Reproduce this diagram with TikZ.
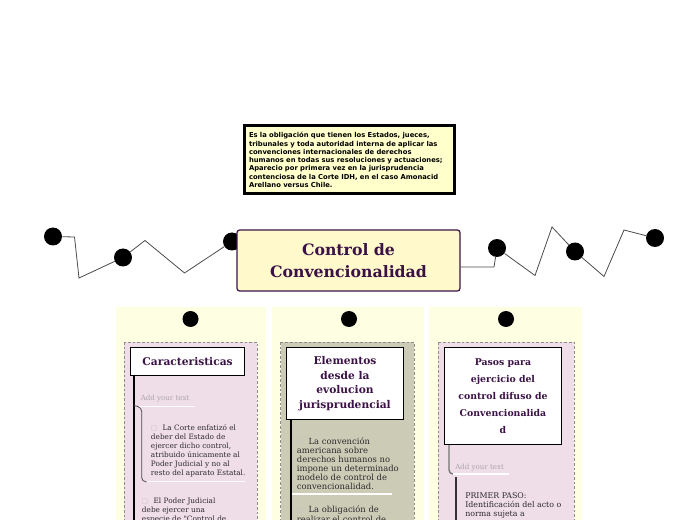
\documentclass[tikz,border=0pt]{standalone}
\usepackage{fontspec}
\setmainfont{Liberation Serif}
\newfontfamily\titlefont{DejaVu Serif}
\newfontfamily\bodyfont{DejaVu Serif}
\newfontfamily\boxfont{DejaVu Sans}
\newfontfamily\symfont{DejaVu Sans}
\definecolor{panelyel}{HTML}{FEFEE3}
\definecolor{boxyel}{HTML}{FFFFCC}
\definecolor{mainyel}{HTML}{FFF9CC}
\definecolor{darkpur}{HTML}{3B1246}
\definecolor{pinkbg}{HTML}{EFDEE7}
\definecolor{olivebg}{HTML}{CBCBB6}
\definecolor{addgray}{HTML}{ADA5AA}
\definecolor{textgray}{HTML}{2E2A2D}
\definecolor{boxgray}{HTML}{C8C0C5}
\newcommand{\bx}{{\symfont\fontsize{5}{5}\selectfont\color{boxgray}□}\hspace{4pt}}
\begin{document}
\begin{tikzpicture}[x=0.75pt,y=-0.75pt,
  dot/.style={circle,fill=black,inner sep=0pt,minimum size=13.5pt},
  smalldot/.style={circle,fill=black,inner sep=0pt,minimum size=12pt},
  zig/.style={draw=black!70,line width=0.6pt},
  header/.style={draw=black,line width=0.7pt,fill=white,anchor=north west,align=center,
    text=darkpur,inner sep=2pt},
  body/.style={anchor=north west,align=left,inner sep=0pt,text=textgray,
    font=\bodyfont\fontsize{5.5}{6.75}\selectfont},
  addtext/.style={anchor=north west,inner sep=0pt,text=addgray,
    font=\bodyfont\fontsize{5.3}{6.75}\selectfont},
  dashbox/.style={draw=black!45,dash pattern=on 2pt off 1.5pt,line width=0.6pt}]
\clip (0,0) rectangle (696,520);
\fill[white] (0,0) rectangle (696,520);
% cuadro superior
\node[draw=black,line width=2.25pt,fill=boxyel,text width=150pt,minimum height=51pt,
  inner xsep=3.75pt,align=left,font=\boxfont\bfseries\fontsize{5.1}{6.2}\selectfont]
  (defbox) at (349,160) {Es la obligación que tienen los Estados, jueces,\\
  tribunales y toda autoridad interna de aplicar las\\
  convenciones internacionales de derechos\\
  humanos en todas sus resoluciones y actuaciones;\\
  Aparecio por primera vez en la jurisprudencia\\
  contenciosa de la Corte IDH, en el caso Amonacid\\
  Arellano versus Chile.};
% puntos laterales
\node[dot] (l1) at (53,236.5) {};
\node[dot] (l2) at (123,257.5) {};
\node[dot] (l3) at (232,241.5) {};
\node[dot] (r1) at (497,248) {};
\node[dot] (r2) at (575,251.5) {};
\node[dot] (r3) at (655,238) {};
\draw[zig] (l1) -- (74.5,237) -- (79,278) -- (l2) -- (145,240.5) -- (184.5,273) -- (l3);
\draw[zig] (r1) -- (535,275.5) -- (552,227) -- (r2) -- (604,276.5) -- (624,230) -- (r3);
% nodo central
\node[draw=darkpur,line width=0.9pt,fill=mainyel,rounded corners=2pt,
  minimum width=167.25pt,minimum height=45.75pt,align=center,text=darkpur,
  font=\titlefont\bfseries\fontsize{11.8}{17}\selectfont]
  (centre) at (348.5,260.5) {Control de\\Convencionalidad};
\draw[zig] ([yshift=-4.9pt]centre.east) -- (494,267) -- (r1);
% columnas
\fill[panelyel] (116,307) rectangle (266,525);
\fill[panelyel] (272,307) rectangle (424,525);
\fill[panelyel] (429,307) rectangle (582,525);
\node[smalldot] (c1) at (190.5,319) {};
\node[smalldot] (c2) at (349,319) {};
\node[smalldot] (c3) at (506,319) {};
\draw[dashbox,fill=pinkbg] (124,342) rectangle (257,525);
\draw[dashbox,fill=olivebg] (280.7,342) rectangle (414,525);
\draw[dashbox,fill=pinkbg] (438.3,342) rectangle (574,525);
% columna 1: Caracteristicas
\node[header,minimum width=85.7pt,minimum height=21pt,
  font=\titlefont\bfseries\fontsize{8}{11}\selectfont] (hdrA) at (130,347) {Caracteristicas};
\coordinate (a0) at (134,375);
\draw[black,line width=0.9pt] (a0) -- (134,525);
\node[addtext] (addA) at (140.5,395) {Add your text};
\draw[white,line width=1pt] (139,406.7) -- (195,406.7);
\draw[black!70,line width=0.6pt,rounded corners=3pt] (134,405.5) -- (141.7,407.5) -- (141.7,481.7) -- (146.7,481.7);
\draw[white,line width=1pt] (146.7,481.7) -- (245,481.7);
\node[body] (itA1) at (150.7,424) {\bx La Corte enfatizó el\\deber del Estado de\\ejercer dicho control,\\atribuido únicamente al\\Poder Judicial y no al\\resto del aparato Estatal.};
\node[body] (itA2) at (141.7,497.5) {\bx El Poder Judicial\\debe ejercer una\\especie de "Control de};
% columna 2: Elementos
\node[header,minimum width=87.75pt,minimum height=54pt,
  font=\titlefont\bfseries\fontsize{8}{11}\selectfont] (hdrB) at (286,347) {Elementos\\desde la\\evolucion\\jurisprudencial};
\draw[black,line width=1.5pt] (hdrB.south west -| 290.7,0) -- (290.7,525);
\node[body,font=\bodyfont\fontsize{6.3}{6.8}\selectfont] (itB1) at (296.7,437.5) {\bx La convención\\americana sobre\\derechos humanos no\\impone un determinado\\modelo de control de\\convencionalidad.};
\draw[white,line width=1.2pt] (291.7,494) -- (391.7,494);
\node[body,font=\bodyfont\fontsize{6.3}{6.8}\selectfont] (itB2) at (296.7,506) {\bx La obligación de\\realizar el control de};
% columna 3: Pasos
\node[header,minimum width=87.75pt,minimum height=72.75pt,
  font=\titlefont\bfseries\fontsize{7}{12.75}\selectfont] (hdrC) at (444,347) {Pasos para\\ejercicio del\\control difuso de\\Convencionalida\\d};
\draw[black!55,line width=1pt,rounded corners=3pt] (hdrC.south west -| 449,0) -- (449,474) -- (453,474);
\node[addtext] (addC) at (455,463.5) {Add your text};
\draw[white,line width=1pt] (453,474) -- (509,474);
\draw[black!80,line width=1.5pt] (456,477) -- (456,525);
\node[body,font=\bodyfont\fontsize{5.9}{6.9}\selectfont] (itC1) at (465,492) {PRIMER PASO:\\Identificación del acto o\\norma sujeta a};
\end{tikzpicture}
\end{document}
